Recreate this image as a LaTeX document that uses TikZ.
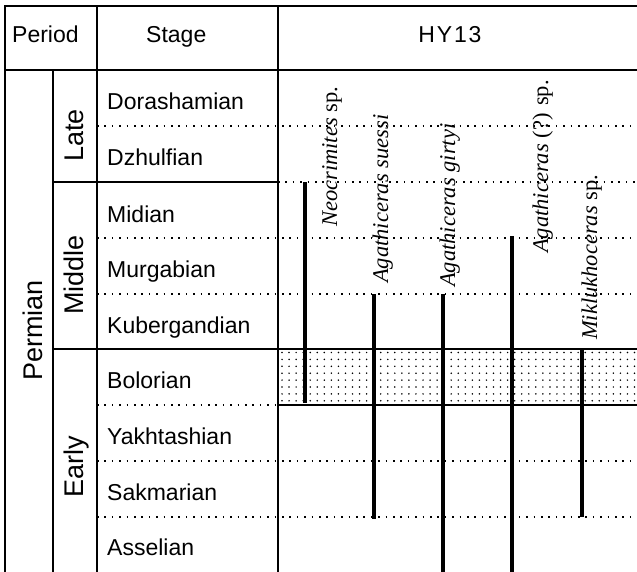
\documentclass[tikz,border=0pt]{standalone}
\usepackage{fontspec}
\setmainfont{Liberation Serif}
\setsansfont{Liberation Sans}
\begin{document}
\begin{tikzpicture}[x=1bp,y=-1bp,
  rule/.style={line width=1.5bp},
  dotrule/.style={line width=1.5bp, dash pattern=on 1.5bp off 5.9bp},
  rangebar/.style={line width=3.6bp},
  stagelbl/.style={font=\sffamily\fontsize{23bp}{27bp}\selectfont, anchor=base west, inner sep=0pt},
  headlbl/.style={font=\sffamily\fontsize{23bp}{27bp}\selectfont, anchor=base west, inner sep=0pt},
  grouplbl/.style={font=\sffamily\fontsize{27bp}{31bp}\selectfont, rotate=90, anchor=base west, inner sep=0pt},
  taxlbl/.style={font=\fontsize{22.5bp}{26bp}\selectfont, rotate=90, anchor=base west, inner sep=0pt}]
\useasboundingbox (0,0) rectangle (637,572);
% stipple band
\foreach \i in {0,...,50} {
  \foreach \j in {0,...,7} {
    \fill (282+\i*7.05, 352.5+\j*6.9) circle (0.85bp);
  }
}
% frame and solid rules
\draw[rule] (637,6) -- (5,6) -- (5,572);
\draw[rule] (5,70) -- (637,70);
\draw[rule] (53,70) -- (53,572);
\draw[rule] (97,6) -- (97,572);
\draw[rule] (278,6) -- (278,572);
\draw[rule] (53,182) -- (278,182);
\draw[rule] (53,349) -- (637,349);
\draw[rule] (278,405) -- (637,405);
% dotted rules
\draw[dotrule] (97,126) -- (637,126);
\draw[dotrule] (278,182) -- (637,182);
\draw[dotrule] (97,238) -- (637,238);
\draw[dotrule] (97,294) -- (637,294);
\draw[dotrule] (97,405) -- (278,405);
\draw[dotrule] (97,461) -- (637,461);
\draw[dotrule] (97,517) -- (637,517);
% headers
\node[headlbl] (hperiod) at (12,43) {Period};
\node[headlbl] (hstage) at (146,43) {Stage};
\node[headlbl, anchor=base] (hsec) at (450,43) {\addfontfeature{LetterSpace=8}HY13};
% groups
\node[grouplbl] (permian) at (42,381) {Permian};
\node[grouplbl] (late) at (83,162) {Late};
\node[grouplbl] (middle) at (83,315) {Middle};
\node[grouplbl] (early) at (83,498) {Early};
% stages
\node[stagelbl] (s1) at (107,110) {Dorashamian};
\node[stagelbl] (s2) at (107,166) {Dzhulfian};
\node[stagelbl] (s3) at (107,222) {Midian};
\node[stagelbl] (s4) at (107,277) {Murgabian};
\node[stagelbl] (s5) at (107,333) {Kubergandian};
\node[stagelbl] (s6) at (107,388) {Bolorian};
\node[stagelbl] (s7) at (107,444) {Yakhtashian};
\node[stagelbl] (s8) at (107,500) {Sakmarian};
\node[stagelbl] (s9) at (107,555) {Asselian};
% taxa labels
\node[taxlbl] (t1) at (337,227) {\textit{Neocrimites} sp.};
\node[taxlbl] (t2) at (388,283) {\textit{Agathiceras suessi}};
\node[taxlbl] (t3) at (455,287) {\textit{Agathiceras girtyi}};
\node[taxlbl] (t4) at (548,253) {\textit{Agathiceras} (?) sp.};
\node[taxlbl] (t5) at (597,340) {\textit{Miklukhoceras} sp.};
% range bars
\coordinate (r1a) at (305,182); \coordinate (r1b) at (305,403);
\coordinate (r2a) at (374,294); \coordinate (r2b) at (374,519);
\coordinate (r3a) at (443,294); \coordinate (r3b) at (443,572);
\coordinate (r4a) at (512,236); \coordinate (r4b) at (512,572);
\coordinate (r5a) at (582,349); \coordinate (r5b) at (582,517);
\draw[rangebar] (r1a) -- (r1b);
\draw[rangebar] (r2a) -- (r2b);
\draw[rangebar] (r3a) -- (r3b);
\draw[rangebar] (r4a) -- (r4b);
\draw[rangebar] (r5a) -- (r5b);
\end{tikzpicture}
\end{document}
